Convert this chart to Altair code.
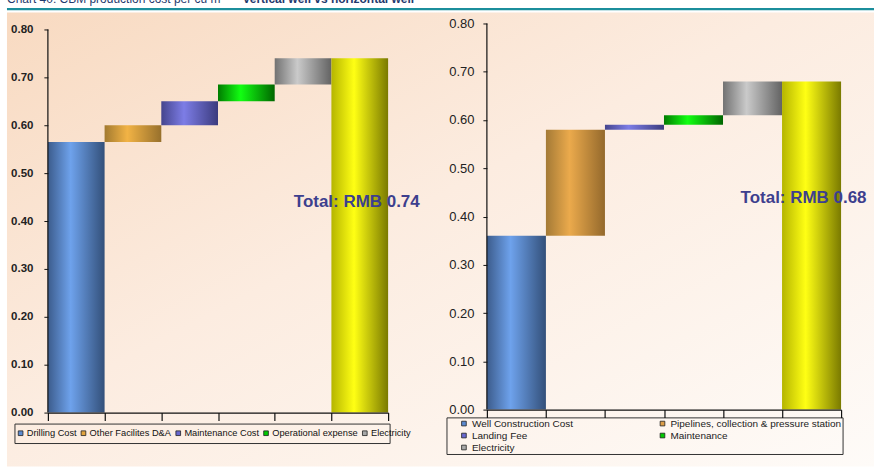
import altair as alt
import pandas as pd

# ---- data -------------------------------------------------------------
vertical_steps = ["Drilling Cost", "Other Facilites D&A", "Maintenance Cost",
                  "Operational expense", "Electricity"]
vertical_costs = [0.565, 0.035, 0.05, 0.035, 0.055]

horizontal_steps = ["Well Construction Cost", "Pipelines, collection & pressure station",
                    "Landing Fee", "Maintenance", "Electricity"]
horizontal_costs = [0.36, 0.22, 0.01, 0.02, 0.07]

y_ticks = [0.0, 0.1, 0.2, 0.3, 0.4, 0.5, 0.6, 0.7, 0.8]

title_regular = "Chart 40: CBM production cost per cu m \u2013"
title_bold = "Vertical well vs horizontal well"

# ---- styles -----------------------------------------------------------
# (left edge, highlight, right edge) for the cylinder shading of each bar
vertical_shades = [
    ("#3C5C8C", "#6EA2EC", "#33507A"),
    ("#A27A30", "#F2B345", "#97702C"),
    ("#45458E", "#7D7DE6", "#3B3B7E"),
    ("#007C00", "#12FF12", "#006600"),
    ("#727272", "#CACACA", "#636363"),
    ("#B5B500", "#FFFF14", "#7A7A00"),
]
horizontal_shades = [
    ("#3C5C8C", "#6EA2EC", "#33507A"),
    ("#A47A36", "#EBAA4C", "#94692C"),
    ("#45458E", "#7D7DE6", "#3B3B7E"),
    ("#007C00", "#12FF12", "#006600"),
    ("#727272", "#CACACA", "#636363"),
    ("#B5B500", "#FFFF14", "#7A7A00"),
]
vertical_legend_colors = ["#5B8AD0", "#E2A43E", "#6868D0", "#00C800", "#A8A8A8"]
horizontal_legend_colors = ["#5B8AD0", "#DC9E48", "#6868D0", "#00C800", "#A8A8A8"]

TOTAL_COLOR = "#3D3F8E"
AXIS_COLOR = "#111111"
SANS = "Liberation Sans"


def waterfall_frame(steps, costs):
    rows, base = [], 0.0
    for i, (step, cost) in enumerate(zip(steps, costs)):
        top = round(base + cost, 4)
        rows.append(dict(step=step, x0=i, x1=i + 1, y0=base, y1=top))
        base = top
    n = len(steps)
    rows.append(dict(step="Total", x0=n, x1=n + 1, y0=0.0, y1=base))
    return pd.DataFrame(rows), base


def shade(colors):
    left, mid, right = colors
    return alt.LinearGradient(
        gradient="linear", x1=0, x2=1, y1=0, y2=0,
        stops=[alt.GradientStop(color=left, offset=0),
               alt.GradientStop(color=mid, offset=0.4),
               alt.GradientStop(color=right, offset=1)],
    )


def panel(steps, costs, shades, legend_colors, legend, width, height, ymax,
          label_weight, label_size, label_padding,
          total_dx, total_y, legend_box, extra_layers=()):
    frame, total = waterfall_frame(steps, costs)
    n = len(steps) + 1

    x_axis = alt.Axis(values=list(range(n + 1)), labels=False, title=None, grid=False,
                      tickSize=8, tickColor=AXIS_COLOR, tickWidth=1.2,
                      domainColor=AXIS_COLOR, domainWidth=1.2, zindex=1)
    y_axis = alt.Axis(values=y_ticks, format=".2f", title=None, grid=False, domain=False,
                      tickSize=4, tickColor=AXIS_COLOR, tickWidth=1,
                      labelFont=SANS, labelFontWeight=label_weight,
                      labelFontSize=label_size, labelColor="#222222",
                      labelPadding=label_padding, zindex=1)
    x_scale = alt.Scale(domain=[0, n], nice=False, zero=False)
    y_scale = alt.Scale(domain=[0, ymax], nice=False)

    def xe(field):
        return alt.X(f"{field}:Q", scale=x_scale, axis=x_axis)

    def ye(field):
        return alt.Y(f"{field}:Q", scale=y_scale, axis=y_axis)

    layers = list(extra_layers)

    for i in range(n):
        layers.append(
            alt.Chart(frame.iloc[[i]]).mark_rect(color=shade(shades[i])).encode(
                x=xe("x0"), x2="x1", y=ye("y0"), y2="y1")
        )

    axis_line = pd.DataFrame({"ax": [0.0], "lo": [y_ticks[0]], "hi": [y_ticks[-1]]})
    layers.append(
        alt.Chart(axis_line).mark_rule(color=AXIS_COLOR, strokeWidth=1.2).encode(
            x=xe("ax"), y=ye("lo"), y2="hi")
    )

    total_df = pd.DataFrame({"xm": [len(steps) + 0.5],
                             "label": [f"Total: RMB {total:.2f}"]})
    layers.append(
        alt.Chart(total_df).mark_text(font=SANS, fontWeight="bold",
                                      fontSize=17, color=TOTAL_COLOR, align="center",
                                      baseline="middle", dx=total_dx).encode(
            x=xe("xm"), y=alt.value(total_y), text="label:N")
    )

    bx0, bx1, by0, by1 = legend_box
    one = pd.DataFrame({"k": [0]})
    layers.append(
        alt.Chart(one).mark_rect(fillOpacity=0, stroke="#333333", strokeWidth=1).encode(
            x=alt.value(bx0), x2=alt.value(bx1), y=alt.value(by0), y2=alt.value(by1))
    )

    legend_df = pd.DataFrame({"step": steps})
    layers.append(
        alt.Chart(legend_df).mark_square(opacity=0).encode(
            color=alt.Color("step:N", sort=steps,
                            scale=alt.Scale(domain=steps, range=legend_colors),
                            legend=legend))
    )

    return alt.layer(*layers).properties(width=width, height=height)


# ---- page decorations (drawn in the first panel, spanning the page) ----
deco = pd.DataFrame({"k": [0]})
page_bg = alt.LinearGradient(
    gradient="linear", x1=0, y1=0, x2=1, y2=1,
    stops=[alt.GradientStop(color="#F8DAC1", offset=0),
           alt.GradientStop(color="#FCECE0", offset=0.45),
           alt.GradientStop(color="#FEFBF8", offset=1)],
)
page_layers = [
    alt.Chart(deco).mark_rect(color="white").encode(
        x=alt.value(-48), x2=alt.value(832), y=alt.value(-43), y2=alt.value(444)),
    alt.Chart(deco).mark_rect(color=page_bg).encode(
        x=alt.value(-41), x2=alt.value(832), y=alt.value(-11), y2=alt.value(444)),
    alt.Chart(deco).mark_rule(color="#1B8E9C", strokeWidth=2.2).encode(
        x=alt.value(-41), x2=alt.value(832), y=alt.value(-14.3)),
    alt.Chart(deco).mark_text(text=title_regular, font=SANS, fontSize=12,
                              color="#1F3A6E", align="left", baseline="alphabetic").encode(
        x=alt.value(-41), y=alt.value(-20.3)),
    alt.Chart(deco).mark_text(text=title_bold, font=SANS, fontSize=12,
                              fontWeight="bold", color="#1F3A6E", align="left",
                              baseline="alphabetic").encode(
        x=alt.value(195), y=alt.value(-20.3)),
]

vertical_legend = alt.Legend(
    orient="none", legendX=-32, legendY=406, direction="horizontal", columns=5,
    title=None, symbolType="square", symbolSize=22, symbolStrokeColor="#222222",
    symbolStrokeWidth=0.8, symbolOpacity=1, labelFont=SANS,
    labelFontSize=9.3, labelColor="#111111", labelOffset=1.5,
    columnPadding=2, padding=0, labelLimit=300, gridAlign="each",
)
horizontal_legend = alt.Legend(
    orient="none", legendX=-28, legendY=396, direction="horizontal", columns=2,
    title=None, symbolType="square", symbolSize=22, symbolStrokeColor="#222222",
    symbolStrokeWidth=0.8, symbolOpacity=1, labelFont=SANS,
    labelFontSize=10, labelColor="#222222", labelOffset=3, columnPadding=84,
    rowPadding=2, padding=0, labelLimit=300, gridAlign="each",
)

vertical_panel = panel(
    vertical_steps, vertical_costs, vertical_shades, vertical_legend_colors,
    vertical_legend, width=341, height=390, ymax=0.8125,
    label_weight="bold", label_size=11.5, label_padding=11,
    total_dx=-3, total_y=178.7,
    legend_box=(-33, 343, 401.5, 421), extra_layers=page_layers,
)
horizontal_panel = panel(
    horizontal_steps, horizontal_costs, horizontal_shades, horizontal_legend_colors,
    horizontal_legend, width=355, height=387, ymax=0.8,
    label_weight="normal", label_size=13, label_padding=9,
    total_dx=-8, total_y=175.3,
    legend_box=(-40, 357, 395.3, 432),
)

chart = (
    alt.hconcat(vertical_panel, horizontal_panel, spacing=99, bounds="flush")
    .resolve_scale(color="independent")
    .resolve_legend(color="independent")
    .properties(padding={"left": 0, "top": -20, "right": -6, "bottom": 0},
                background="white")
    .configure_view(stroke=None)
)

chart.save("out.html", embed_options={"renderer": "svg", "actions": False})
